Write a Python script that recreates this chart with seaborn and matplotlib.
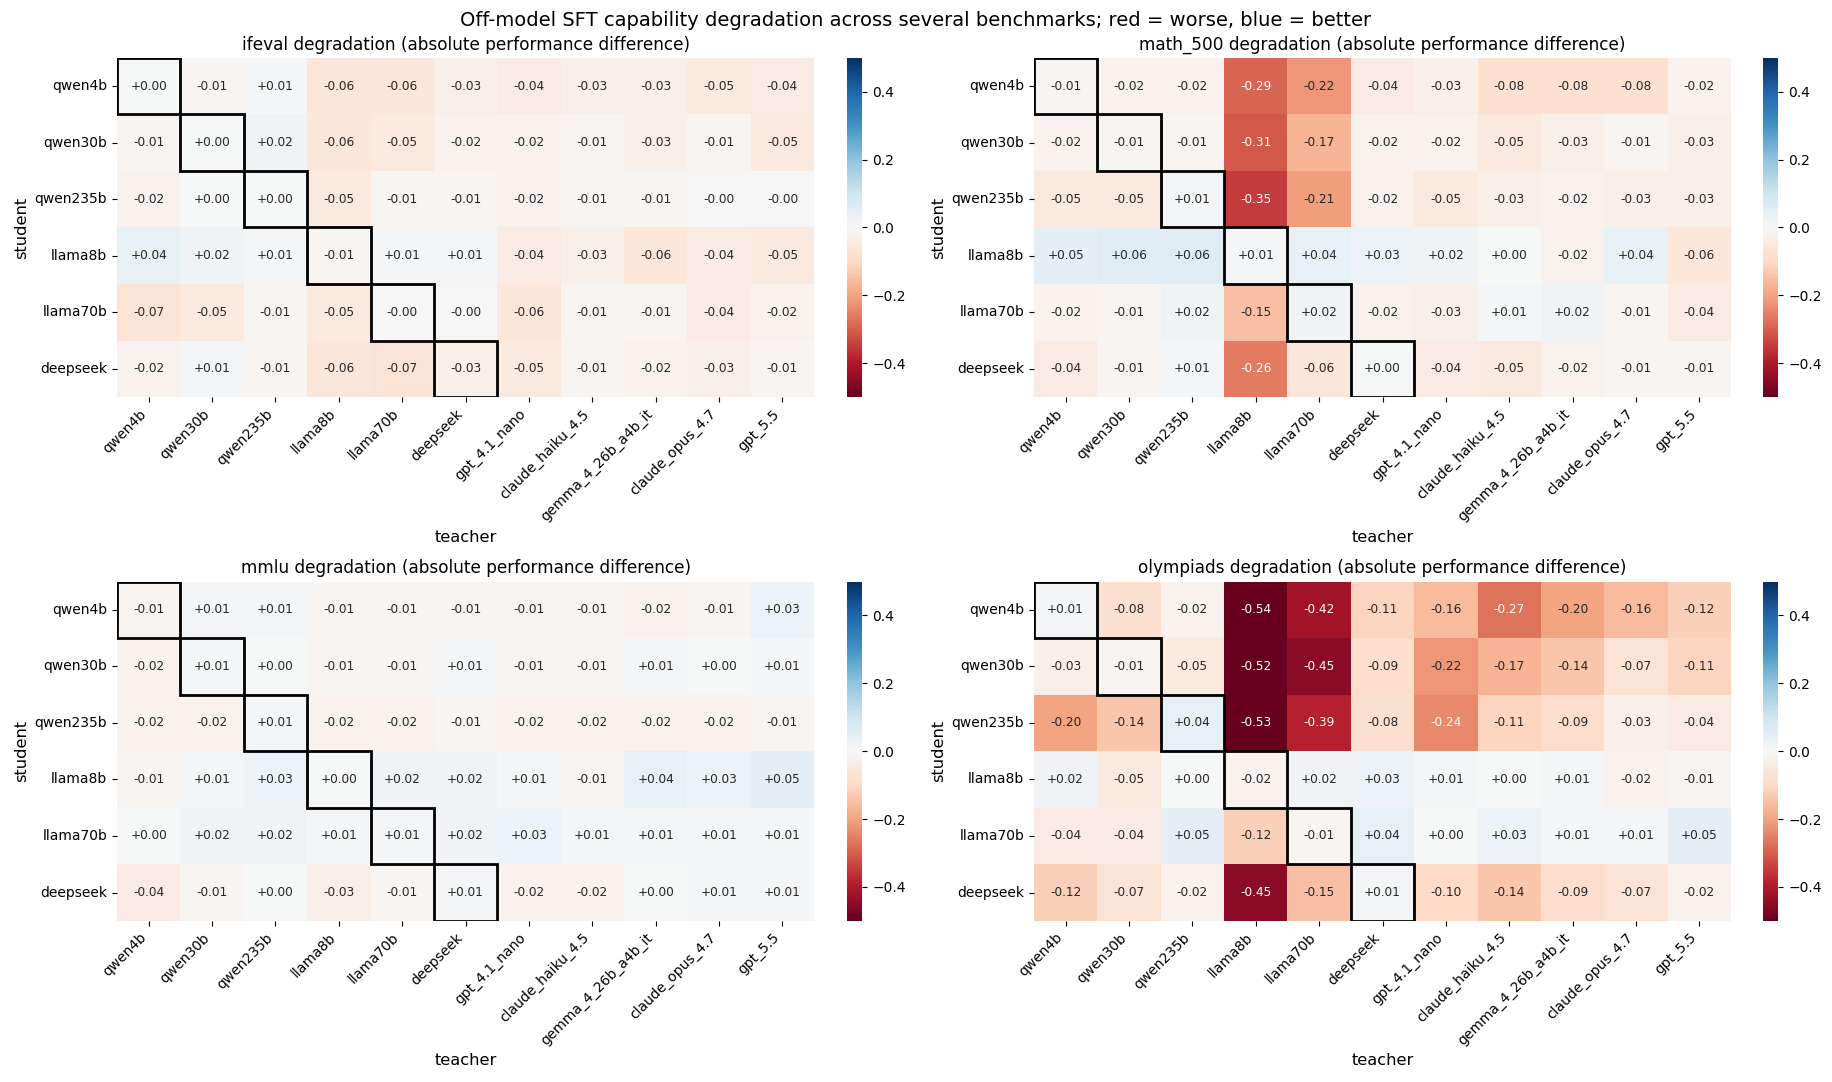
import numpy as np
import pandas as pd
import matplotlib
matplotlib.use("Agg")
import matplotlib.pyplot as plt
from matplotlib.patches import Rectangle
import seaborn as sns

# modeli
students = ["qwen4b", "qwen30b", "qwen235b", "llama8b", "llama70b", "deepseek"]
teachers = ["qwen4b", "qwen30b", "qwen235b", "llama8b", "llama70b", "deepseek",
            "gpt_4.1_nano", "claude_haiku_4.5", "gemma_4_26b_a4b_it",
            "claude_opus_4.7", "gpt_5.5"]

# razlike po benchmarku (red = student, kolona = teacher)
ifeval = [
    [0.001, -0.01, 0.01, -0.06, -0.06, -0.03, -0.04, -0.03, -0.03, -0.05, -0.04],
    [-0.01, 0.001, 0.02, -0.06, -0.05, -0.02, -0.02, -0.01, -0.03, -0.01, -0.05],
    [-0.02, 0.001, 0.001, -0.05, -0.01, -0.01, -0.02, -0.01, -0.01, -0.001, -0.001],
    [0.04, 0.02, 0.01, -0.01, 0.01, 0.01, -0.04, -0.03, -0.06, -0.04, -0.05],
    [-0.07, -0.05, -0.01, -0.05, -0.001, -0.001, -0.06, -0.01, -0.01, -0.04, -0.02],
    [-0.02, 0.01, -0.01, -0.06, -0.07, -0.03, -0.05, -0.01, -0.02, -0.03, -0.01],
]
math_500 = [
    [-0.01, -0.02, -0.02, -0.29, -0.22, -0.04, -0.03, -0.08, -0.08, -0.08, -0.02],
    [-0.02, -0.01, -0.01, -0.31, -0.17, -0.02, -0.02, -0.05, -0.03, -0.01, -0.03],
    [-0.05, -0.05, 0.01, -0.35, -0.21, -0.02, -0.05, -0.03, -0.02, -0.03, -0.03],
    [0.05, 0.06, 0.06, 0.01, 0.04, 0.03, 0.02, 0.001, -0.02, 0.04, -0.06],
    [-0.02, -0.01, 0.02, -0.15, 0.02, -0.02, -0.03, 0.01, 0.02, -0.01, -0.04],
    [-0.04, -0.01, 0.01, -0.26, -0.06, 0.001, -0.04, -0.05, -0.02, -0.01, -0.01],
]
mmlu = [
    [-0.01, 0.01, 0.01, -0.01, -0.01, -0.01, -0.01, -0.01, -0.02, -0.01, 0.03],
    [-0.02, 0.01, 0.001, -0.01, -0.01, 0.01, -0.01, -0.01, 0.01, 0.001, 0.01],
    [-0.02, -0.02, 0.01, -0.02, -0.02, -0.01, -0.02, -0.02, -0.02, -0.02, -0.01],
    [-0.01, 0.01, 0.03, 0.001, 0.02, 0.02, 0.01, -0.01, 0.04, 0.03, 0.05],
    [0.001, 0.02, 0.02, 0.01, 0.01, 0.02, 0.03, 0.01, 0.01, 0.01, 0.01],
    [-0.04, -0.01, 0.001, -0.03, -0.01, 0.01, -0.02, -0.02, 0.001, 0.01, 0.01],
]
olympiads = [
    [0.01, -0.08, -0.02, -0.54, -0.42, -0.11, -0.16, -0.27, -0.20, -0.16, -0.12],
    [-0.03, -0.01, -0.05, -0.52, -0.45, -0.09, -0.22, -0.17, -0.14, -0.07, -0.11],
    [-0.20, -0.14, 0.04, -0.53, -0.39, -0.08, -0.24, -0.11, -0.09, -0.03, -0.04],
    [0.02, -0.05, 0.001, -0.02, 0.02, 0.03, 0.01, 0.001, 0.01, -0.02, -0.01],
    [-0.04, -0.04, 0.05, -0.12, -0.01, 0.04, 0.001, 0.03, 0.01, 0.01, 0.05],
    [-0.12, -0.07, -0.02, -0.45, -0.15, 0.01, -0.10, -0.14, -0.09, -0.07, -0.02],
]

benchmarks = {"ifeval": ifeval, "math_500": math_500, "mmlu": mmlu, "olympiads": olympiads}

fig = plt.figure(figsize=(18.32, 10.82), dpi=100)

# raspored panela (heatmap + colorbar) u dijelovima figure
lefts = [0.0639, 0.5644, 0.0639, 0.5644]
bottoms = [0.633, 0.633, 0.149, 0.149]
heights = [0.3135, 0.3135, 0.3135, 0.3135]
cb_lefts = [0.4623, 0.9623, 0.4623, 0.9623]

for k, (name, vals) in enumerate(benchmarks.items()):
    ax = fig.add_axes([lefts[k], bottoms[k], 0.3805, heights[k]])
    cax = fig.add_axes([cb_lefts[k], bottoms[k], 0.0084, heights[k]])
    df = pd.DataFrame(vals, index=students, columns=teachers)
    sns.heatmap(df, ax=ax, cbar_ax=cax, cmap="RdBu", vmin=-0.5, vmax=0.5, center=0,
                annot=True, fmt="+.2f", annot_kws={"size": 8.7})
    cax.tick_params(labelsize=10)
    # okvir oko dijagonale (student == teacher)
    for i in range(len(students)):
        ax.add_patch(Rectangle((i, i), 1, 1, fill=False, edgecolor="black", lw=2))
    ax.set_title(f"{name} degradation (absolute performance difference)", fontsize=12.2)
    ax.set_xlabel("teacher", fontsize=11.7)
    ax.set_ylabel("student", fontsize=11.7)
    ax.set_xticklabels(ax.get_xticklabels(), rotation=45, ha="right", fontsize=10)
    ax.set_yticklabels(ax.get_yticklabels(), rotation=0, fontsize=10)

fig.suptitle("Off-model SFT capability degradation across several benchmarks; red = worse, blue = better",
             fontsize=14, y=0.99)
plt.savefig("out.png", dpi=100)
